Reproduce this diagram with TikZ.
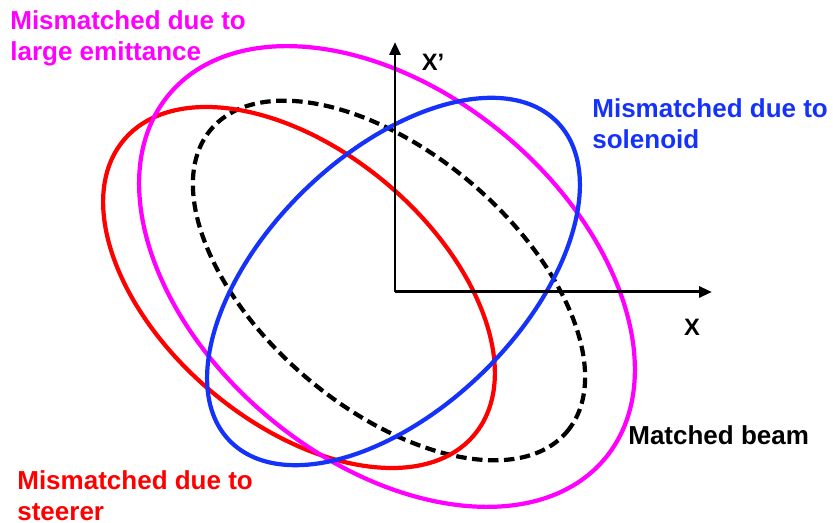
\documentclass[tikz,border=0pt]{standalone}
\usepackage{fontspec}
\setmainfont{Liberation Sans}
\usetikzlibrary{arrows.meta}

\definecolor{solblue}{RGB}{20,50,250}
\definecolor{emitpink}{RGB}{255,0,255}
\definecolor{steerred}{RGB}{255,0,0}

\begin{document}
\begin{tikzpicture}[
    beam/.style={line width=2.4pt},
    axis/.style={line width=1.7pt, -{Triangle[length=0.26cm,width=0.22cm]}},
    lbl/.style={font=\fontsize{14.8}{17.6}\selectfont\bfseries, align=left, inner sep=0pt, anchor=north west},
    axlbl/.style={font=\fontsize{13.5}{16}\selectfont\bfseries, inner sep=0pt}
  ]

  \useasboundingbox (-7.9,-4.62) rectangle (8.76,5.84);

  % Matched beam (dashed)
  \draw[beam, dash pattern=on 0.21cm off 0.11cm, rotate around={-40.4:(-0.12,0.23)}]
    (-0.12,0.23) ellipse (4.67 and 2.55);

  % Mismatched due to steerer
  \draw[beam, steerred, rotate around={-40.1:(-1.92,0.09)}]
    (-1.92,0.09) ellipse (4.58 and 2.72);

  % Mismatched due to large emittance
  \draw[beam, emitpink, rotate around={-39.85:(-0.16,0.31)}]
    (-0.16,0.31) ellipse (5.68 and 3.68);

  % Mismatched due to solenoid
  \draw[beam, solblue, rotate around={44.2:(-0.03,0.21)}]
    (-0.03,0.21) ellipse (4.57 and 2.55);

  % Axes
  \coordinate (origin) at (0,0);
  \coordinate (xend) at (6.34,0);
  \coordinate (yend) at (0,5.0);
  \draw[axis] (origin) -- (xend);
  \draw[axis] (origin) -- (yend);

  \node[axlbl] (xlabel) at (5.94,-0.7) {X};
  \node[axlbl] (xplabel) at (0.76,4.6) {X'};

  % Labels
  \node[lbl, emitpink] (emit) at (-7.7,5.64) {Mismatched due to\\large emittance};
  \node[lbl, solblue] (sol) at (3.94,3.88) {Mismatched due to\\solenoid};
  \node[lbl, steerred] (steer) at (-7.56,-3.56) {Mismatched due to\\steerer};
  \node[lbl] (matched) at (4.66,-2.67) {Matched beam};

\end{tikzpicture}
\end{document}
